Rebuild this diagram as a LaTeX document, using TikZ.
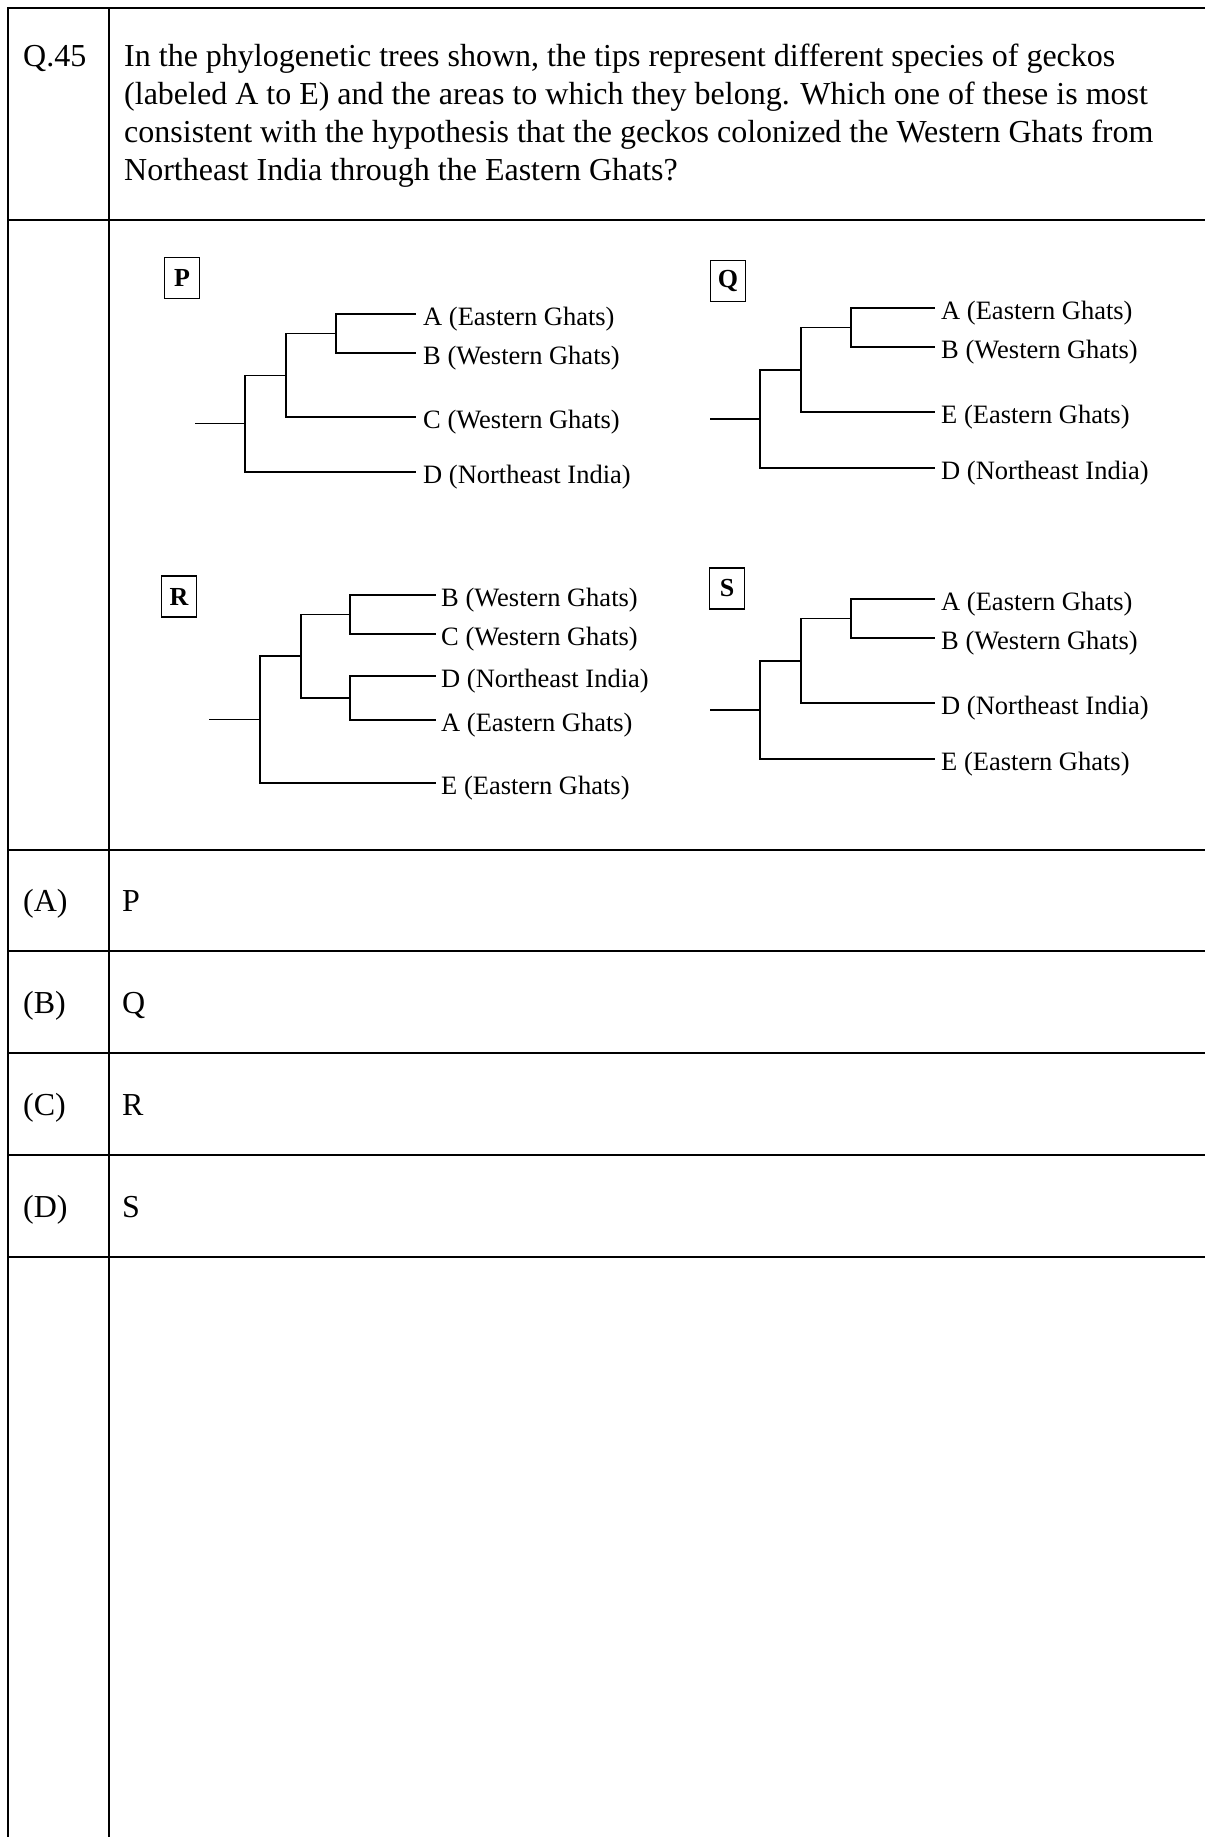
\documentclass[tikz,border=0pt]{standalone}
\usepackage{fontspec}
\setmainfont{Liberation Serif}
\begin{document}
\begin{tikzpicture}[x=1pt,y=-1pt,
  hgrid/.style={line width=2.4pt},
  vgrid/.style={line width=2pt},
  branch/.style={line width=1.6pt, draw=black},
  tip/.style={anchor=base west, inner sep=0pt, font=\fontsize{26.5}{30}\selectfont},
  boxlbl/.style={draw, line width=1.4pt, minimum width=35pt, minimum height=41pt, inner sep=0pt, font=\bfseries\fontsize{26}{30}\selectfont},
  qtext/.style={anchor=base west, inner sep=0pt, font=\fontsize{32}{37}\selectfont}]
\useasboundingbox (0,0) rectangle (1205,1837);
\fill[white] (0,0) rectangle (1205,1837);

% ---- table grid ----
\draw[vgrid] (8,7) -- (8,1837);
\draw[vgrid] (109,7) -- (109,1837);
\foreach \yy in {8,220,850,951,1053,1155,1257}
  \draw[hgrid] (7,\yy) -- (1205,\yy);

% ---- question ----
\node[qtext] (qnum) at (23,66) {Q.45};
\node[qtext] (ql1) at (124,66) {In the phylogenetic trees shown, the tips represent different species of geckos};
\node[qtext] (ql2) at (124,104) {(labeled A to E) and the areas to which they belong. Which one of these is most};
\node[qtext] (ql3) at (124,142) {consistent with the hypothesis that the geckos colonized the Western Ghats from};
\node[qtext] (ql4) at (124,180) {Northeast India through the Eastern Ghats?};

% ---- tree P ----
\node[boxlbl] (boxP) at (182,278) {P};
\coordinate (Pstub) at (195,423.5);
\coordinate (Pr) at (245,423.5);
\coordinate (Pn2) at (286,375.5);
\coordinate (Pn3) at (336,333.5);
\coordinate (PtA) at (416,314);
\coordinate (PtB) at (416,353);
\coordinate (PtC) at (416,417);
\coordinate (PtD) at (416,472);
\draw[branch] (Pstub) -- (Pr);
\draw[branch] (Pr) |- (Pn2);
\draw[branch] (Pr) |- (PtD);
\draw[branch] (Pn2) |- (Pn3);
\draw[branch] (Pn2) |- (PtC);
\draw[branch] (Pn3) |- (PtA);
\draw[branch] (Pn3) |- (PtB);
\node[tip] (PlA) at (423,325) {A (Eastern Ghats)};
\node[tip] (PlB) at (423,364) {B (Western Ghats)};
\node[tip] (PlC) at (423,428) {C (Western Ghats)};
\node[tip] (PlD) at (423,483) {D (Northeast India)};

% ---- tree Q ----
\node[boxlbl] (boxQ) at (728,281) {Q};
\coordinate (Qstub) at (710,419);
\coordinate (Qr) at (760,419);
\coordinate (Qn2) at (801,370);
\coordinate (Qn3) at (851,327.5);
\coordinate (QtA) at (935,308);
\coordinate (QtB) at (935,347);
\coordinate (QtE) at (935,412);
\coordinate (QtD) at (935,468);
\draw[branch] (Qstub) -- (Qr);
\draw[branch] (Qr) |- (Qn2);
\draw[branch] (Qr) |- (QtD);
\draw[branch] (Qn2) |- (Qn3);
\draw[branch] (Qn2) |- (QtE);
\draw[branch] (Qn3) |- (QtA);
\draw[branch] (Qn3) |- (QtB);
\node[tip] (QlA) at (941,319) {A (Eastern Ghats)};
\node[tip] (QlB) at (941,358) {B (Western Ghats)};
\node[tip] (QlE) at (941,423) {E (Eastern Ghats)};
\node[tip] (QlD) at (941,479) {D (Northeast India)};

% ---- tree R ----
\node[boxlbl] (boxR) at (179,596.5) {R};
\coordinate (Rstub) at (209,719.5);
\coordinate (Rr) at (260,719.5);
\coordinate (Rn2) at (301,656);
\coordinate (Rn3a) at (350,614.5);
\coordinate (Rn3b) at (350,698);
\coordinate (RtB) at (436,595);
\coordinate (RtC) at (436,634);
\coordinate (RtD) at (436,676);
\coordinate (RtA) at (436,720);
\coordinate (RtE) at (436,783);
\draw[branch] (Rstub) -- (Rr);
\draw[branch] (Rr) |- (Rn2);
\draw[branch] (Rr) |- (RtE);
\draw[branch] (Rn2) |- (Rn3a);
\draw[branch] (Rn2) |- (Rn3b);
\draw[branch] (Rn3a) |- (RtB);
\draw[branch] (Rn3a) |- (RtC);
\draw[branch] (Rn3b) |- (RtD);
\draw[branch] (Rn3b) |- (RtA);
\node[tip] (RlB) at (441,606) {B (Western Ghats)};
\node[tip] (RlC) at (441,645) {C (Western Ghats)};
\node[tip] (RlD) at (441,687) {D (Northeast India)};
\node[tip] (RlA) at (441,731) {A (Eastern Ghats)};
\node[tip] (RlE) at (441,794) {E (Eastern Ghats)};

% ---- tree S ----
\node[boxlbl] (boxS) at (727,588.5) {S};
\coordinate (Sstub) at (710,710);
\coordinate (Sr) at (760,710);
\coordinate (Sn2) at (801,661);
\coordinate (Sn3) at (851,618.5);
\coordinate (StA) at (935,599);
\coordinate (StB) at (935,638);
\coordinate (StD) at (935,703);
\coordinate (StE) at (935,759);
\draw[branch] (Sstub) -- (Sr);
\draw[branch] (Sr) |- (Sn2);
\draw[branch] (Sr) |- (StE);
\draw[branch] (Sn2) |- (Sn3);
\draw[branch] (Sn2) |- (StD);
\draw[branch] (Sn3) |- (StA);
\draw[branch] (Sn3) |- (StB);
\node[tip] (SlA) at (941,610) {A (Eastern Ghats)};
\node[tip] (SlB) at (941,649) {B (Western Ghats)};
\node[tip] (SlD) at (941,714) {D (Northeast India)};
\node[tip] (SlE) at (941,770) {E (Eastern Ghats)};

% ---- options ----
\node[qtext] (oA) at (23,911) {(A)};
\node[qtext] (oAt) at (122,911) {P};
\node[qtext] (oB) at (23,1013) {(B)};
\node[qtext] (oBt) at (122,1013) {Q};
\node[qtext] (oC) at (23,1115) {(C)};
\node[qtext] (oCt) at (122,1115) {R};
\node[qtext] (oD) at (23,1217) {(D)};
\node[qtext] (oDt) at (122,1217) {S};
\end{tikzpicture}
\end{document}
